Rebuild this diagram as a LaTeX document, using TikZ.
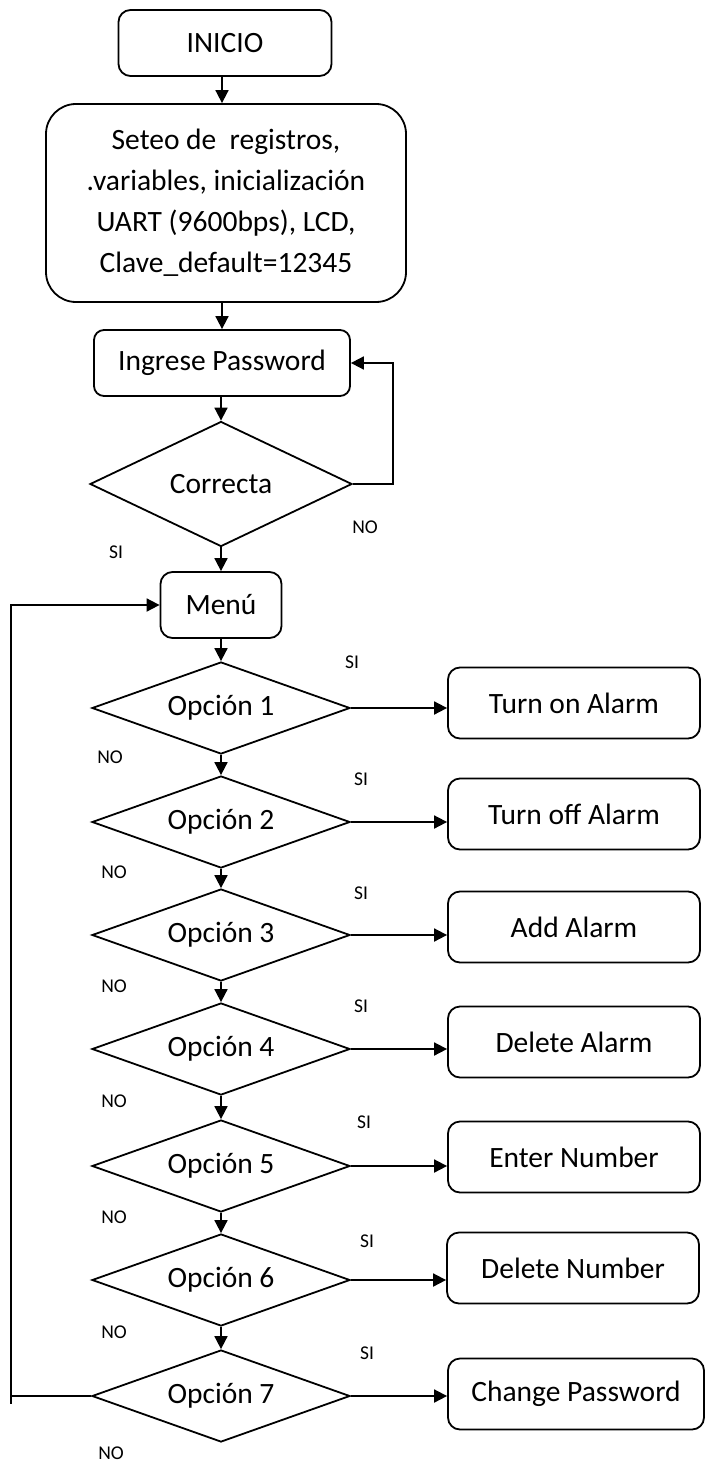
\documentclass[tikz,border=0pt]{standalone}
\usepackage{fontspec}
\setmainfont{Carlito}
\usetikzlibrary{shapes.geometric,arrows.meta}
\begin{document}
\begin{tikzpicture}[x=1pt,y=-1pt,
  base/.style={draw=black,line width=1.8pt,font=\fontsize{29.5}{41}\selectfont,inner sep=0pt,align=center},
  rbox/.style={base,rectangle,rounded corners=#1},
  rbox/.default=12pt,
  dec/.style={base,diamond,aspect=3},
  opt/.style={dec,minimum width=258pt,minimum height=92pt},
  act/.style={rbox,minimum width=252pt,minimum height=71pt},
  lbl/.style={font=\fontsize{19.5}{22}\selectfont,inner sep=0pt},
  arr/.style={line width=1.8pt,-{Triangle[length=13pt,width=13pt]}},
  ln/.style={line width=1.8pt}]
\useasboundingbox (0,0) rectangle (706,1463);

\node[rbox, minimum width=213pt, minimum height=66pt] (ini) at (225,43) {INICIO};
\node[rbox=30pt, minimum width=360pt, minimum height=198pt] (set) at (226,203)
  {Seteo de\ \ registros,\\.variables, inicialización\\UART (9600bps), LCD,\\Clave\_default=12345};
\node[rbox=10pt, minimum width=256pt, minimum height=66pt] (ing) at (222,363) {Ingrese Password};
\node[dec, minimum width=262pt, minimum height=125pt] (cor) at (221,484) {Correcta};
\node[rbox, minimum width=121pt, minimum height=66pt] (menu) at (221,605) {Menú};

\node[opt] (o1) at (221,708) {Opción 1};
\node[opt] (o2) at (221,822) {Opción 2};
\node[opt] (o3) at (221,935) {Opción 3};
\node[opt] (o4) at (221,1049) {Opción 4};
\node[opt] (o5) at (221,1166) {Opción 5};
\node[opt] (o6) at (221,1280) {Opción 6};
\node[opt] (o7) at (221,1396) {Opción 7};

\node[act] (t1) at (574,703) {Turn on Alarm};
\node[act] (t2) at (574,814) {Turn off Alarm};
\node[act] (t3) at (574,927) {Add Alarm};
\node[act] (t4) at (574,1042) {Delete Alarm};
\node[act] (t5) at (574,1157) {Enter Number};
\node[act] (t6) at (573,1268) {Delete Number};
\node[act, minimum width=256pt] (t7) at (576,1394) {Change Password};

% vertical flow
\draw[arr] (ini.south -| ing.north) -- (set.north -| ing.north);
\draw[arr] (set.south -| ing.north) -- (ing.north);
\draw[arr] (ing.south -| cor.north) -- (cor.north);
\draw[arr] (cor.east) -- ++(40,0) |- (ing.east);
\draw[arr] (cor.south) -- (menu.north);
\draw[arr] (menu.south) -- (o1.north);
\draw[arr] (o1.south) -- (o2.north);
\draw[arr] (o2.south) -- (o3.north);
\draw[arr] (o3.south) -- (o4.north);
\draw[arr] (o4.south) -- (o5.north);
\draw[arr] (o5.south) -- (o6.north);
\draw[arr] (o6.south) -- (o7.north);

% SI branches
\draw[arr] (o1.east) -- (o1.east -| t1.west);
\draw[arr] (o2.east) -- (o2.east -| t2.west);
\draw[arr] (o3.east) -- (o3.east -| t3.west);
\draw[arr] (o4.east) -- (o4.east -| t4.west);
\draw[arr] (o5.east) -- (o5.east -| t5.west);
\draw[arr] (o6.east) -- (o6.east -| t6.west);
\draw[arr] (o7.east) -- (o7.east -| t7.west);

% return loop
\coordinate (lx) at (11,0);
\draw[arr] (o7.west) -- (o7.west -| lx) -- (lx |- menu.west) -- (menu.west);
\draw[ln] (o7.west -| lx) -- ++(0,8);

% labels
\node[lbl] (si0) at (116,552) {SI};
\node[lbl] (no0) at (365,527) {NO};
\node[lbl] (si1) at (352,662) {SI};
\node[lbl] (no1) at (110,757) {NO};
\node[lbl] (si2) at (361,779) {SI};
\node[lbl] (no2) at (114,872) {NO};
\node[lbl] (si3) at (361,893) {SI};
\node[lbl] (no3) at (114,986) {NO};
\node[lbl] (si4) at (361,1006) {SI};
\node[lbl] (no4) at (114,1101) {NO};
\node[lbl] (si5) at (364,1122) {SI};
\node[lbl] (no5) at (114,1217) {NO};
\node[lbl] (si6) at (367,1241) {SI};
\node[lbl] (no6) at (114,1332) {NO};
\node[lbl] (si7) at (367,1353) {SI};
\node[lbl] (no7) at (111,1453) {NO};
\end{tikzpicture}
\end{document}
